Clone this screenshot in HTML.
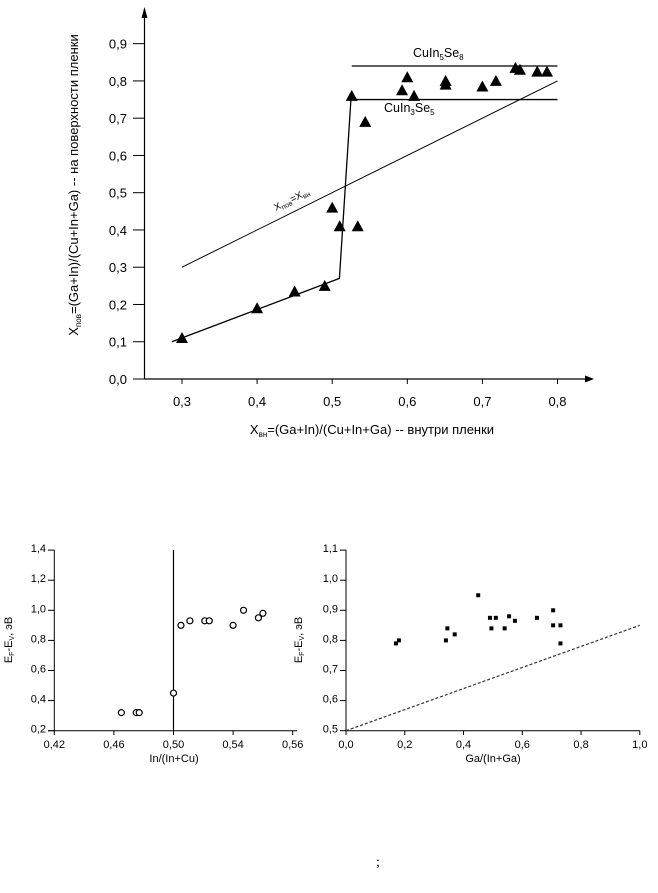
<!DOCTYPE html>
<html><head><meta charset="utf-8">
<style>
body{margin:0;background:#fff;}
svg{display:block;font-family:"Liberation Sans","DejaVu Sans",sans-serif;}
text{fill:#000;}
</style></head>
<body>
<svg id="s" width="658" height="893" viewBox="0 0 658 893"></svg>
<script>
// ---- Top chart data ----
const topXTicks = [0.3,0.4,0.5,0.6,0.7,0.8];
const topYTicks = [0.0,0.1,0.2,0.3,0.4,0.5,0.6,0.7,0.8,0.9];
const topPointsX = [0.30,0.40,0.45,0.49,0.50,0.51,0.534,0.526,0.544,0.593,0.60,0.609,0.651,0.651,0.70,0.718,0.744,0.75,0.773,0.786];
const topPointsY = [0.11,0.19,0.235,0.25,0.46,0.41,0.41,0.76,0.69,0.775,0.81,0.76,0.80,0.79,0.785,0.80,0.835,0.83,0.825,0.825];
const fitX = [0.2865,0.5096,0.525];
const fitY = [0.10,0.27,0.752];
const diagX = [0.3,0.8];
const diagY = [0.3,0.8];
const phaseLevels = [0.84,0.75];
const phaseXRange = [0.526,0.8];
// ---- Bottom-left data ----
const blXTicks = [0.42,0.46,0.50,0.54,0.58];
const blXLabels = ["0,42","0,46","0,50","0,54","0,56"];
const blYTicks = [0.2,0.4,0.6,0.8,1.0,1.2,1.4];
const blX = [0.465,0.475,0.477,0.500,0.505,0.511,0.521,0.524,0.540,0.547,0.557,0.560];
const blY = [0.32,0.32,0.32,0.45,0.90,0.93,0.93,0.93,0.90,1.00,0.95,0.98];
const blVLine = 0.50;
// ---- Bottom-right data ----
const brXTicks = [0,0.2,0.4,0.6,0.8,1.0];
const brYTicks = [0.5,0.6,0.7,0.8,0.9,1.0,1.1];
const brX = [0.17,0.18,0.34,0.345,0.37,0.45,0.49,0.495,0.51,0.54,0.555,0.575,0.65,0.705,0.705,0.73,0.73];
const brY = [0.79,0.80,0.80,0.84,0.82,0.95,0.875,0.84,0.875,0.84,0.88,0.865,0.875,0.90,0.85,0.85,0.79];
const brDashX = [0,1];
const brDashY = [0.5,0.85];

const NS="http://www.w3.org/2000/svg";
const svg=document.getElementById('s');
function mk(tag,attrs,parent){const e=document.createElementNS(NS,tag);for(const k in attrs)e.setAttribute(k,attrs[k]);(parent||svg).appendChild(e);return e;}
function fmt(v,d){return v.toFixed(d).replace('.',',');}

// ===== TOP =====
const tx=v=>182+(v-0.3)*751;
const ty=v=>379-v*372.6;
let g=mk('g',{});


let ax=mk('line',{x1:144.5,y1:379,x2:590,y2:379,stroke:'#000','stroke-width':1.2},g);

let arr=mk('path',{d:'M594 379 L585 375.5 L585 382.5 Z',fill:'#000'},g);

let ay=mk('line',{x1:144.5,y1:379,x2:144.5,y2:9,stroke:'#000','stroke-width':1.2},g);

let arr2=mk('path',{d:'M144.5 7 L141.5 18 L147.5 18 Z',fill:'#000'},g);

topXTicks.forEach(v=>{const x=tx(v);
 mk('line',{x1:x,y1:379,x2:x,y2:384,stroke:'#000'},g);
 const t=mk('text',{x:x,y:406,'font-size':13,'text-anchor':'middle'},g);t.textContent=fmt(v,1);
 });
topYTicks.forEach(v=>{const y=ty(v);
 mk('line',{x1:133,y1:y,x2:144.5,y2:y,stroke:'#000'},g);
 const t=mk('text',{x:127,y:y+5,'font-size':13,'text-anchor':'end'},g);t.textContent=fmt(v,1);
 });
let fp=fitX.map((v,i)=>tx(v)+','+ty(fitY[i])).join(' ');
let fl=mk('polyline',{points:fp,fill:'none',stroke:'#000','stroke-width':1.3},g);

let dl=mk('line',{x1:tx(diagX[0]),y1:ty(diagY[0]),x2:tx(diagX[1]),y2:ty(diagY[1]),stroke:'#000','stroke-width':1},g);

phaseLevels.forEach(v=>{const l=mk('line',{x1:tx(phaseXRange[0]),y1:ty(v),x2:tx(phaseXRange[1]),y2:ty(v),stroke:'#000','stroke-width':1.3},g);
 });
topPointsX.forEach((v,i)=>{const x=tx(v),y=ty(topPointsY[i]);
 const p=mk('path',{d:`M${x} ${y-6} L${x-6} ${y+5} L${x+6} ${y+5} Z`,fill:'#000'},g);
 });
let l1=mk('text',{x:413,y:57,'font-size':12.5},g);
l1.innerHTML='CuIn<tspan font-size="8" dy="3">5</tspan><tspan dy="-3">Se</tspan><tspan font-size="8" dy="3">8</tspan>';

let l2=mk('text',{x:384,y:112,'font-size':12.5},g);
l2.innerHTML='CuIn<tspan font-size="8" dy="3">3</tspan><tspan dy="-3">Se</tspan><tspan font-size="8" dy="3">5</tspan>';

let l3=mk('text',{x:276,y:211,'font-size':10,transform:'rotate(-27 276 211)'},g);
l3.innerHTML='X<tspan font-size="7" dy="2">пов</tspan><tspan dy="-2">=X</tspan><tspan font-size="7" dy="2">вн</tspan>';

let yt=mk('text',{x:0,y:0,'font-size':13,'text-anchor':'middle',transform:'translate(78 185) rotate(-90)'},g);
yt.innerHTML='X<tspan font-size="8" dy="3">пов</tspan><tspan dy="-3">=(Ga+In)/(Cu+In+Ga) -- на поверхности пленки</tspan>';

let xt=mk('text',{x:372,y:434,'font-size':13,'text-anchor':'middle'},g);
xt.innerHTML='X<tspan font-size="8" dy="3">вн</tspan><tspan dy="-3">=(Ga+In)/(Cu+In+Ga) -- внутри пленки</tspan>';


// ===== BOTTOM LEFT =====
const bx=v=>54.3+(v-0.42)*1490;
const by=v=>730.7-(v-0.2)*150.5;
let g2=mk('g',{});


let a1=mk('line',{x1:48,y1:730.7,x2:297,y2:730.7,stroke:'#000'},g2);

let a2=mk('line',{x1:54.3,y1:730.7,x2:54.3,y2:550,stroke:'#000'},g2);

blXTicks.forEach((v,i)=>{const x=bx(v);
 mk('line',{x1:x,y1:730.7,x2:x,y2:735,stroke:'#000'},g2);
 const t=mk('text',{x:x,y:748,'font-size':11,'text-anchor':'middle'},g2);t.textContent=blXLabels[i];
 });
blYTicks.forEach(v=>{const y=by(v);
 mk('line',{x1:48,y1:y,x2:54.3,y2:y,stroke:'#000'},g2);
 const t=mk('text',{x:46,y:y+2,'font-size':11,'text-anchor':'end'},g2);t.textContent=fmt(v,1);
 });
let vl=mk('line',{x1:bx(blVLine),y1:by(1.4),x2:bx(blVLine),y2:730.7,stroke:'#000','stroke-width':1.2},g2);

blX.forEach((v,i)=>{const c=mk('circle',{cx:bx(v),cy:by(blY[i]),r:3,fill:'#fff',stroke:'#000','stroke-width':1.2},g2);
 });
let bxt=mk('text',{x:174,y:762,'font-size':11,'text-anchor':'middle'},g2);bxt.textContent='In/(In+Cu)';

let byt=mk('text',{x:0,y:0,'font-size':11,'text-anchor':'middle',transform:'translate(12 640) rotate(-90)'},g2);
byt.innerHTML='E<tspan font-size="7" dy="2">F</tspan><tspan dy="-2">-E</tspan><tspan font-size="7" dy="2">V</tspan><tspan dy="-2">, эВ</tspan>';


// ===== BOTTOM RIGHT =====
const rx=v=>346+v*293.8;
const ry=v=>730.7-(v-0.5)*301;
let g3=mk('g',{});


let a3=mk('line',{x1:346,y1:730.7,x2:640,y2:730.7,stroke:'#000'},g3);

let a4=mk('line',{x1:346,y1:730.7,x2:346,y2:550,stroke:'#000'},g3);

brXTicks.forEach(v=>{const x=rx(v);
 mk('line',{x1:x,y1:730.7,x2:x,y2:735,stroke:'#000'},g3);
 const t=mk('text',{x:x,y:748,'font-size':11,'text-anchor':'middle'},g3);t.textContent=fmt(v,1);
 });
brYTicks.forEach(v=>{const y=ry(v);
 mk('line',{x1:340,y1:y,x2:346,y2:y,stroke:'#000'},g3);
 const t=mk('text',{x:338,y:y+2,'font-size':11,'text-anchor':'end'},g3);t.textContent=fmt(v,1);
 });
let dd=mk('line',{x1:rx(brDashX[0]),y1:ry(brDashY[0]),x2:rx(brDashX[1]),y2:ry(brDashY[1]),stroke:'#333','stroke-width':1.2,'stroke-dasharray':'3,2'},g3);

brX.forEach((v,i)=>{const r=mk('rect',{x:rx(v)-2,y:ry(brY[i])-2,width:4,height:4,fill:'#000'},g3);
 });
let rxt=mk('text',{x:493,y:762,'font-size':11,'text-anchor':'middle'},g3);rxt.textContent='Ga/(In+Ga)';

let ryt=mk('text',{x:0,y:0,'font-size':11,'text-anchor':'middle',transform:'translate(302 640) rotate(-90)'},g3);
ryt.innerHTML='E<tspan font-size="7" dy="2">F</tspan><tspan dy="-2">-E</tspan><tspan font-size="7" dy="2">V</tspan><tspan dy="-2">, эВ</tspan>';


let sc=mk('text',{x:376,y:866,'font-size':14,'font-family':'Liberation Serif, serif'});sc.textContent=';';

</script>
</body></html>
